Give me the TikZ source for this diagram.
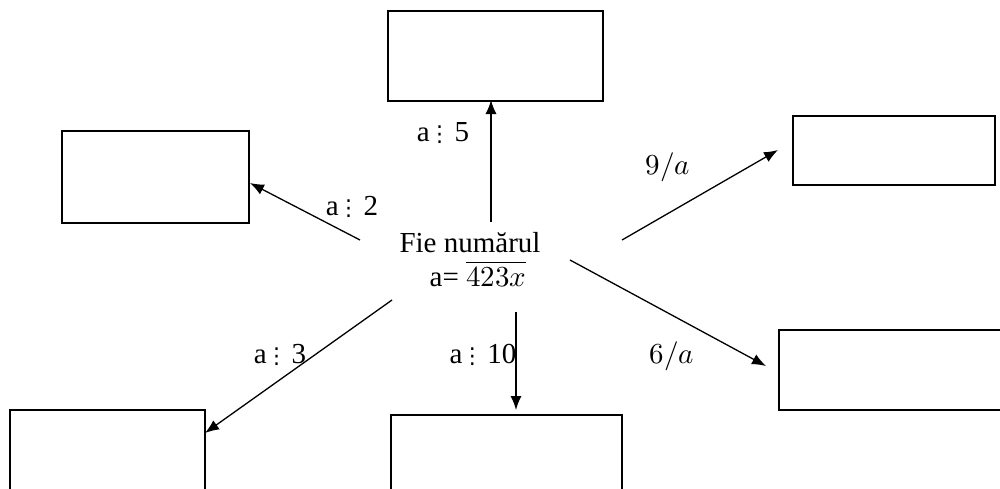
\documentclass[tikz,border=0pt]{standalone}
\usepackage{fontspec}
\usepackage{unicode-math}
\setmainfont{Liberation Serif}
\setmathfont{Latin Modern Math}
\newfontfamily\dvs{DejaVu Sans}
\usetikzlibrary{arrows.meta}
\tikzset{
  box/.style={draw, line width=1.3pt, inner sep=0pt},
  arr/.style={line width=1.3pt, -{Latex[length=14pt,width=11pt]}},
  lbl/.style={inner sep=0pt, font=\fontsize{29}{34}\selectfont}
}
\newcommand{\dv}{{\kern-1pt\dvs\fontsize{22}{26}\selectfont ⋮}\kern4pt}
\begin{document}
\begin{tikzpicture}[x=1pt,y=-1pt]
\useasboundingbox (0,0) rectangle (1000,488);
\clip (0,0) rectangle (1000,488);
% boxes
\node[box, minimum width=215pt, minimum height=90pt] (top) at (495.5,56) {};
\node[box, minimum width=187pt, minimum height=92pt] (left) at (155.5,177) {};
\node[box, minimum width=202pt, minimum height=69pt] (rtop) at (894,150.5) {};
\node[box, minimum width=225pt, minimum height=80pt] (rbot) at (891.5,370) {};
\node[box, minimum width=195pt, minimum height=90pt] (bl) at (107.5,455) {};
\node[box, minimum width=231pt, minimum height=90pt] (bm) at (506.5,460) {};
% center text
\node[lbl, align=left] (c1) at (470,243) {Fie numărul};
\node[lbl] (c2) at (478,274) {a= $\overline{423x}$};
% arrow endpoints
\coordinate (sU) at (491,222); \coordinate (eU) at (491,100);
\coordinate (sL) at (360,240); \coordinate (eL) at (250,183);
\coordinate (sRT) at (622,240); \coordinate (eRT) at (778,150);
\coordinate (sRB) at (570,260); \coordinate (eRB) at (766,366);
\coordinate (sBL) at (392,300); \coordinate (eBL) at (205,433);
\coordinate (sBM) at (516,312); \coordinate (eBM) at (516,410);
\draw[arr] (sU) -- (eU);
\draw[arr] (sL) -- (eL);
\draw[arr] (sRT) -- (eRT);
\draw[arr] (sRB) -- (eRB);
\draw[arr] (sBL) -- (eBL);
\draw[arr] (sBM) -- (eBM);
% labels
\node[lbl] (l5) at (443,133) {a\dv 5};
\node[lbl] (l2) at (352,207) {a\dv 2};
\node[lbl] (l9) at (668,167) {$9/a$};
\node[lbl] (l6) at (672,356) {$6/a$};
\node[lbl] (l3) at (280,355) {a\dv 3};
\node[lbl] (l10) at (483,355) {a\dv 10};
\end{tikzpicture}
\end{document}
